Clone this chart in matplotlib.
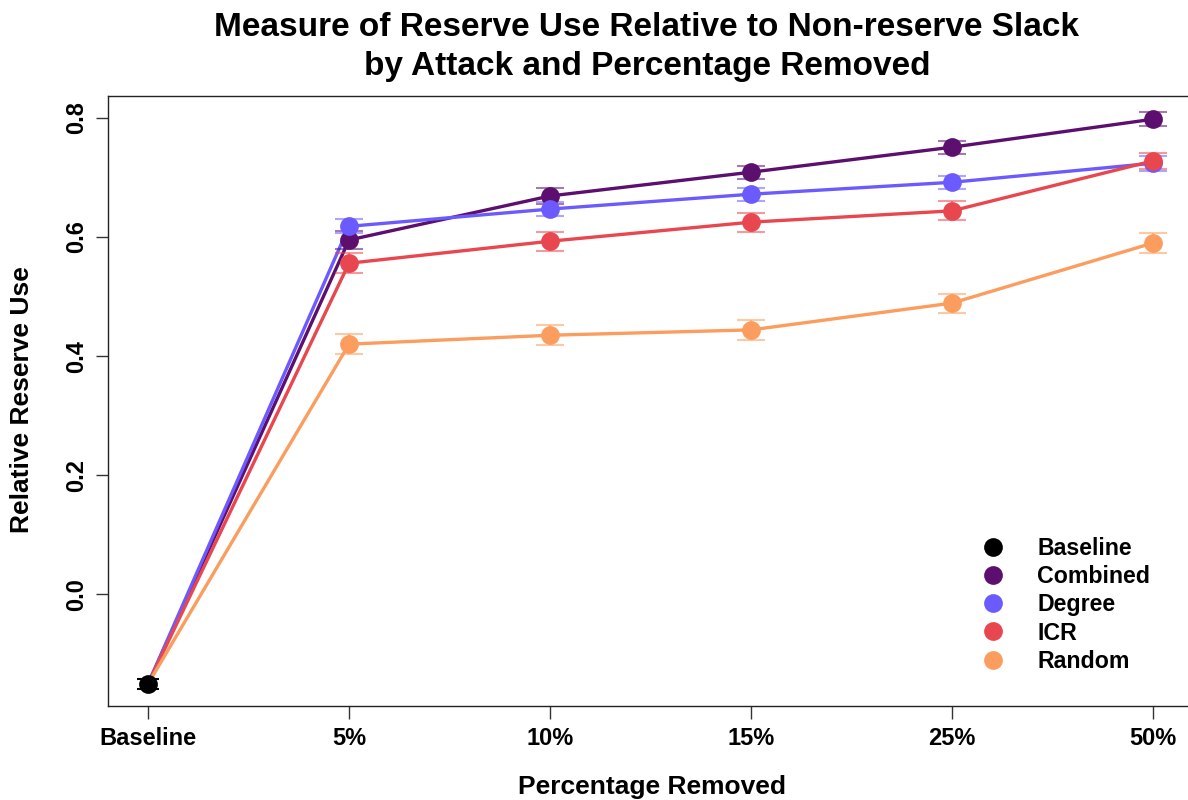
import matplotlib
matplotlib.use("Agg")
import matplotlib.pyplot as plt
from matplotlib.lines import Line2D

plt.rcParams['font.family'] = ['Liberation Sans', 'DejaVu Sans']
plt.rcParams['font.weight'] = 'bold'

categories = ["Baseline", "5%", "10%", "15%", "25%", "50%"]
baseline_value = -0.151
baseline_err = 0.009

series_names = ["Combined", "Degree", "ICR", "Random"]
combined = [0.595, 0.669, 0.709, 0.751, 0.798]
combined_err = [0.015, 0.013, 0.011, 0.011, 0.012]
degree = [0.618, 0.647, 0.672, 0.692, 0.724]
degree_err = [0.012, 0.012, 0.011, 0.011, 0.013]
icr = [0.556, 0.593, 0.625, 0.644, 0.728]
icr_err = [0.017, 0.016, 0.016, 0.016, 0.014]
random_ = [0.420, 0.435, 0.444, 0.489, 0.590]
random_err = [0.017, 0.017, 0.017, 0.016, 0.016]

colors = {"Baseline": "#000000", "Combined": "#5C0F6E", "Degree": "#6B5BFF",
          "ICR": "#E8474F", "Random": "#FB9D5F"}

values = {"Combined": combined, "Degree": degree, "ICR": icr, "Random": random_}
errors = {"Combined": combined_err, "Degree": degree_err, "ICR": icr_err, "Random": random_err}

fig = plt.figure(figsize=(11.88, 8.0), dpi=100)
ax = fig.add_axes([108/1188, 1-706/800, (1188-108)/1188, (706-96)/800])

xs = list(range(1, len(categories) + 1))
px_per_unit = 201.0
ax.set_xlim(1 - 40/px_per_unit, 1 - 40/px_per_unit + 1080/px_per_unit)
ax.set_ylim(-0.188, 0.837)

for name in series_names:
    c = colors[name]
    yv = [baseline_value] + values[name]
    ax.plot(xs, yv, color=c, lw=2.4, zorder=2, solid_capstyle='butt')

for name in series_names:
    c = colors[name]
    ax.errorbar(xs[1:], values[name], yerr=errors[name], fmt='none', ecolor=c,
                alpha=0.55, elinewidth=1.5, capsize=10, capthick=1.5, zorder=3)
    ax.plot(xs[1:], values[name], 'o', color=c, ms=13.5, mec='none', zorder=4)

ax.errorbar([xs[0]], [baseline_value], yerr=[baseline_err], fmt='none', ecolor='black',
            elinewidth=1.5, capsize=8, capthick=1.5, zorder=5)
ax.plot([xs[0]], [baseline_value], 'o', color='black', ms=13.5, mec='none', zorder=6)

ax.spines['right'].set_visible(False)
for s in ['left', 'top', 'bottom']:
    ax.spines[s].set_linewidth(1.0)
    ax.spines[s].set_color('#222222')

ax.set_xticks(xs)
ax.set_xticklabels(categories, fontsize=17, fontweight='bold')
ax.set_yticks([0.0, 0.2, 0.4, 0.6, 0.8])
ax.set_yticklabels(["0.0", "0.2", "0.4", "0.6", "0.8"], fontsize=17, fontweight='bold',
                   rotation=90, va='center')
ax.tick_params(axis='both', length=9, width=1.0, color='#333333')
ax.tick_params(axis='x', pad=6)
ax.tick_params(axis='y', pad=5)

fig.text(652/1188, 1-787/800, "Percentage Removed", ha='center', va='center',
         fontsize=19, fontweight='bold')
fig.text(22/1188, 1-400/800, "Relative Reserve Use", ha='center', va='center',
         fontsize=19, fontweight='bold', rotation=90)
fig.text(647/1188, 1-28/800, "Measure of Reserve Use Relative to Non-reserve Slack",
         ha='center', va='center', fontsize=24, fontweight='bold')
fig.text(647/1188, 1-67/800, "by Attack and Percentage Removed",
         ha='center', va='center', fontsize=24, fontweight='bold')

handles = [Line2D([], [], ls='none', marker='o', ms=13.5, color=colors[n], mec='none')
           for n in ["Baseline"] + series_names]
ax.legend(handles, ["Baseline"] + series_names, loc='upper left',
          bbox_to_anchor=((970-108)/1080, (706-528)/610), frameon=False,
          prop={'size': 16.7, 'weight': 'bold'}, handletextpad=1.3,
          labelspacing=0.22, borderaxespad=0, handlelength=1.2)

fig.savefig("out.png", dpi=100)
